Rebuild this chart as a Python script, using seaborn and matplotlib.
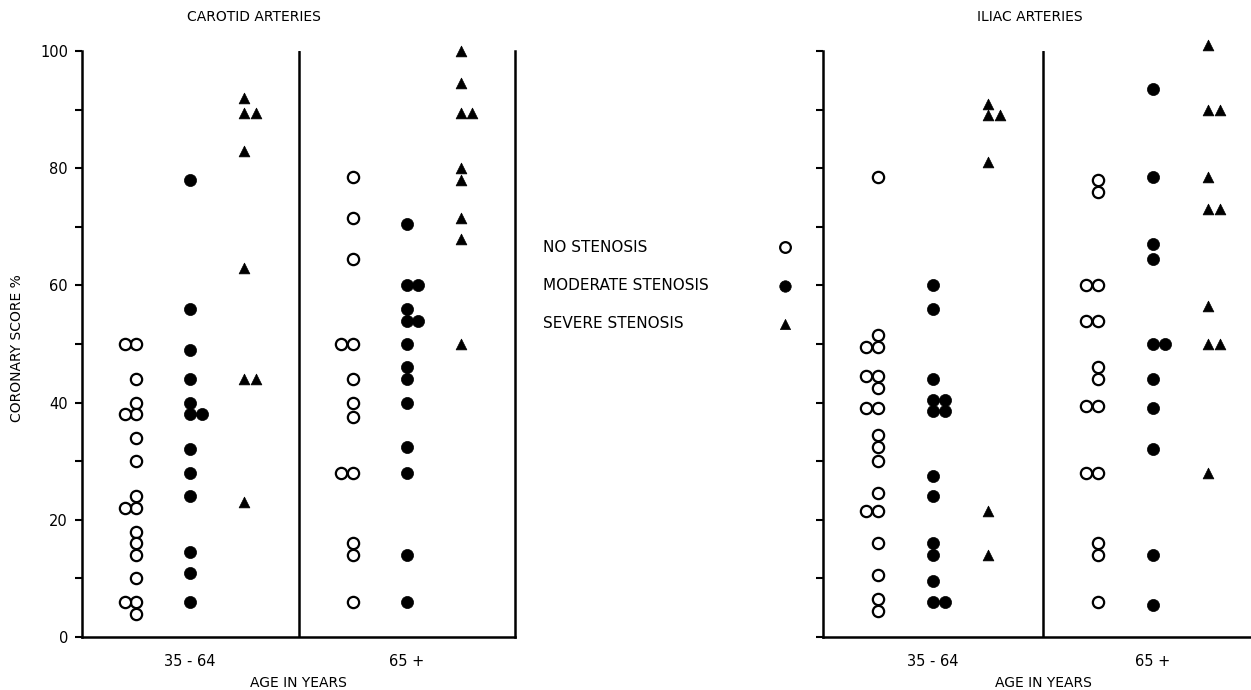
import matplotlib
matplotlib.use("Agg")
import matplotlib.pyplot as plt
import numpy as np
import pandas as pd
import seaborn as sns

# coronary score (%), one list per column of points
carotid_young_none = [50, 50, 44, 40, 38, 38, 34, 30, 24, 22, 22, 18, 16, 14, 10, 6, 6, 4]
carotid_young_moderate = [78, 56, 49, 44, 40, 38, 38, 32, 28, 24, 14.5, 11, 6]
carotid_young_severe = [92, 89.5, 89.5, 83, 63, 44, 44, 23]
carotid_old_none = [78.5, 71.5, 64.5, 50, 50, 44, 40, 37.5, 28, 28, 16, 14, 6]
carotid_old_moderate = [70.5, 60, 60, 56, 54, 54, 50, 46, 44, 40, 32.5, 28, 14, 6]
carotid_old_severe = [100, 94.5, 89.5, 89.5, 80, 78, 71.5, 68, 50]

iliac_young_none = [78.5, 51.5, 49.5, 49.5, 44.5, 44.5, 42.5, 39, 39, 34.5, 32.5, 30,
                    24.5, 21.5, 21.5, 16, 10.5, 6.5, 4.5]
iliac_young_moderate = [60, 56, 44, 40.5, 40.5, 38.5, 38.5, 27.5, 24, 16, 14, 9.5, 6, 6]
iliac_young_severe = [91, 89, 89, 81, 21.5, 14]
iliac_old_none = [78, 76, 60, 60, 54, 54, 46, 44, 39.5, 39.5, 28, 28, 16, 14, 6]
iliac_old_moderate = [93.5, 78.5, 67, 64.5, 50, 50, 44, 39, 32, 14, 5.5]
iliac_old_severe = [101, 90, 90, 78.5, 73, 73, 56.5, 50, 50, 28]

age_groups = ["35 - 64", "65 +"]
stenosis_labels = ["NO STENOSIS", "MODERATE STENOSIS", "SEVERE STENOSIS"]
arteries = ["CAROTID ARTERIES", "ILIAC ARTERIES"]

data = {
    "CAROTID ARTERIES": [[carotid_young_none, carotid_young_moderate, carotid_young_severe],
                         [carotid_old_none, carotid_old_moderate, carotid_old_severe]],
    "ILIAC ARTERIES": [[iliac_young_none, iliac_young_moderate, iliac_young_severe],
                       [iliac_old_none, iliac_old_moderate, iliac_old_severe]],
}

# build a long table; tied values sit side by side (open circles to the left)
rows = []
for art in arteries:
    for g, age in enumerate(age_groups):
        for s, lab in enumerate(stenosis_labels):
            centre = g * 4 + 1 + s
            direction = -1 if s == 0 else 1
            seen = {}
            for v in data[art][g][s]:
                k = seen.get(v, 0)
                seen[v] = k + 1
                rows.append((art, age, lab, v, centre + direction * k * 0.21))
df = pd.DataFrame(rows, columns=["artery", "age", "stenosis", "score", "x"])

sns.set_style("ticks")
plt.rcParams["font.family"] = ["DejaVu Sans"]
plt.rcParams["text.color"] = "black"
plt.rcParams["axes.labelcolor"] = "black"
plt.rcParams["xtick.labelcolor"] = "black"
plt.rcParams["ytick.labelcolor"] = "black"

W, H = 1251, 690
fig = plt.figure(figsize=(W / 100, H / 100), dpi=100)

styles = {
    "NO STENOSIS": dict(marker="o", color="white", s=66, linewidth=1.6),
    "MODERATE STENOSIS": dict(marker="o", color="black", s=76, linewidth=0.5),
    "SEVERE STENOSIS": dict(marker="^", color="black", s=60, linewidth=0.5),
}

panels = {"CAROTID ARTERIES": (82, 515), "ILIAC ARTERIES": (823, 1263)}
titles_x = {"CAROTID ARTERIES": 254, "ILIAC ARTERIES": 1030}
y_top, y_bot = 51, 637

for art in arteries:
    x0, x1 = panels[art]
    ax = fig.add_axes([x0 / W, (H - y_bot) / H, (x1 - x0) / W, (y_bot - y_top) / H])
    sub = df[df.artery == art]
    for lab in stenosis_labels:
        st = styles[lab]
        sns.scatterplot(data=sub[sub.stenosis == lab], x="x", y="score",
                        marker=st["marker"], s=st["s"], color=st["color"],
                        edgecolor="black", linewidth=st["linewidth"],
                        ax=ax, clip_on=False, legend=False, zorder=3)
    ax.set_xlim(0, 8)
    ax.set_ylim(0, 100)
    ax.axvline(4, color="black", lw=1.8)
    ax.spines["top"].set_visible(False)
    for sp in ["left", "bottom", "right"]:
        ax.spines[sp].set_linewidth(1.8)
        ax.spines[sp].set_color("black")
    ax.set_xticks([2, 6])
    ax.set_xticklabels(age_groups, fontsize=10.5)
    ax.tick_params(axis="x", length=0, pad=12)
    yt = list(range(0, 101, 10))
    ax.set_yticks(yt)
    if art == "CAROTID ARTERIES":
        ax.set_yticklabels([str(v) if v % 20 == 0 else "" for v in yt], fontsize=10.5)
        ax.set_ylabel("CORONARY SCORE %", fontsize=10)
        ax.yaxis.set_label_coords(-0.135, 0.493)
    else:
        ax.set_yticklabels([])
        ax.set_ylabel("")
    ax.tick_params(axis="y", length=5, width=1.5, pad=5, color="black")
    ax.set_xlabel("AGE IN YEARS", fontsize=10, labelpad=5)
    fig.text(titles_x[art] / W, 1 - 17 / H, art, ha="center", va="center", fontsize=10)

# legend: labels on the left, symbols on the right
lg = fig.add_axes([0, 0, 1, 1])
lg.set_xlim(0, W)
lg.set_ylim(H, 0)
lg.axis("off")
for i, lab in enumerate(stenosis_labels):
    yy = 247 + 38.5 * i
    lg.text(543, yy, lab, ha="left", va="center", fontsize=11)
    st = styles[lab]
    lg.scatter([785], [yy], marker=st["marker"], s=st["s"] * 0.9, color=st["color"],
               edgecolor="black", linewidth=st["linewidth"])

fig.savefig("out.png", dpi=100)
